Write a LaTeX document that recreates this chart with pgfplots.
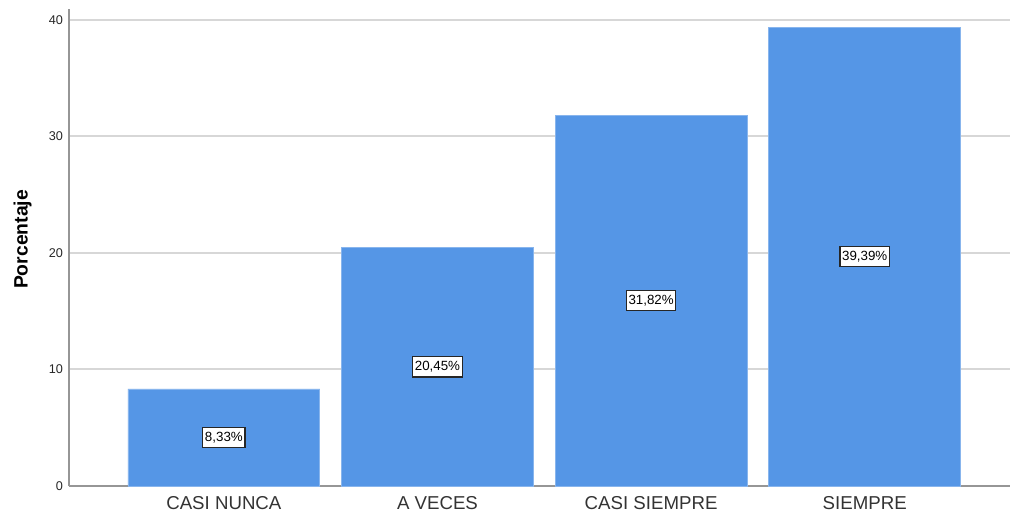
\documentclass[border=0pt]{standalone}
\usepackage{pgfplots}
\pgfplotsset{compat=1.18}
\usepackage{fontspec}
\setmainfont{Liberation Sans}
\definecolor{barblue}{RGB}{85,150,230}
\definecolor{gridgray}{RGB}{215,215,215}
\definecolor{axisgray}{RGB}{150,150,150}

\begin{document}
\begin{tikzpicture}
\begin{axis}[
  scale only axis,
  width=705.75pt, height=357.75pt,
  xmin=-0.725, xmax=3.68,
  ymin=0, ymax=40.94,
  axis x line*=bottom, axis y line*=left,
  axis line style={axisgray, line width=1.5pt},
  xtick={0,1,2,3},
  xticklabels={CASI NUNCA, A VECES, CASI SIEMPRE, SIEMPRE},
  ytick={0,10,20,30,40},
  major tick length=0pt,
  ymajorgrids, grid style={gridgray, line width=1.5pt},
  tick label style={/pgf/number format/assume math mode=true},
  yticklabel style={font=\fontsize{9.5}{11}\selectfont, text=black!85, xshift=-1pt},
  xticklabel style={font=\fontsize{14}{16}\selectfont, text=black!80, yshift=-4pt},
  ylabel={\textbf{Porcentaje}},
  ylabel style={font=\fontsize{14.5}{17}\selectfont, yshift=6pt, xshift=6pt},
  clip=false,
]
\addplot[ybar, bar width=0.898, fill=barblue, draw=barblue!70!white, line width=0.5pt]
  coordinates {(0,8.33) (1,20.45) (2,31.82) (3,39.39)};
\addplot[draw=none, mark=none, nodes near coords, point meta=explicit symbolic,
  every node near coord/.style={anchor=center, fill=white, draw=black!85,
    line width=0.9pt, inner xsep=1.6pt, inner ysep=3.4pt,
    font=\fontsize{10}{12}\selectfont}]
  coordinates {(0,4.165)[8,33\%] (1,10.225)[20,45\%] (2,15.91)[31,82\%] (3,19.695)[39,39\%]};
\end{axis}
\path (current axis.south west) ++(-51.75pt,-21.75pt) coordinate (bbsw);
\path (current axis.north east) ++(2.25pt,6.75pt) coordinate (bbne);
\useasboundingbox (bbsw) rectangle (bbne);
\end{tikzpicture}
\end{document}
